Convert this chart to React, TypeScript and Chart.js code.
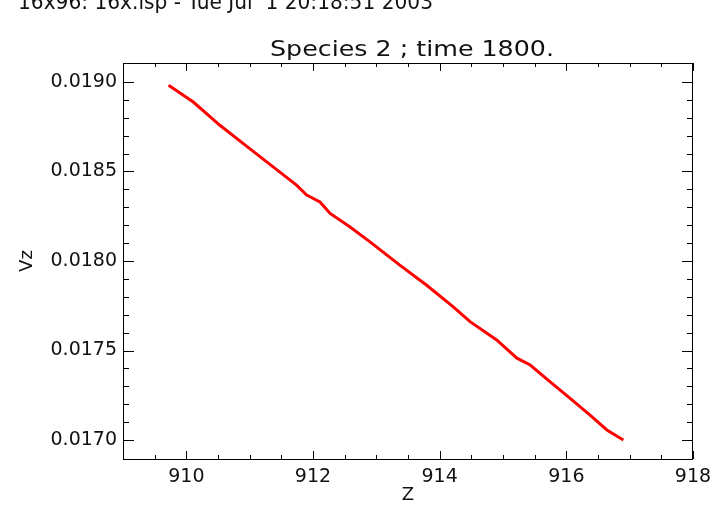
import React, { useEffect, useRef } from "react";
import { Chart, registerables } from "chart.js";

Chart.register(...registerables);

const headerText = "16x96: 16x.lsp - Tue Jul  1 20:18:51 2003";
const titleText = "Species 2 ; time 1800.";
const xTitle = "Z";
const yTitle = "Vz";

const zValues = [
  909.72, 910.11, 910.53, 910.9, 911.37, 911.74, 911.9, 912.11, 912.27, 912.58,
  912.9, 913.37, 913.79, 914.21, 914.48, 914.9, 915.22, 915.43, 915.74, 916.06,
  916.37, 916.64, 916.9,
];
const vzValues = [
  0.018982, 0.018888, 0.018758, 0.018656, 0.018526, 0.018424, 0.018368, 0.01833,
  0.018266, 0.018191, 0.018107, 0.017977, 0.017866, 0.017745, 0.017661, 0.017559,
  0.017457, 0.017419, 0.017326, 0.017233, 0.01714, 0.017056, 0.017,
];

const xMin = 909;
const xMax = 918;
const yMin = 0.016894;
const yMax = 0.019106;

const xMajorTicks = [910, 912, 914, 916, 918];
const xTickLabels = ["910", "912", "914", "916", "918"];
const xMinorTicks = [
  909.5, 910.5, 911, 911.5, 912.5, 913, 913.5, 914.5, 915, 915.5, 916.5, 917, 917.5,
];
const yMajorTicks = [0.017, 0.0175, 0.018, 0.0185, 0.019];
const yTickLabels = ["0.0170", "0.0175", "0.0180", "0.0185", "0.0190"];
const yMinorTicks = [
  0.0171, 0.0172, 0.0173, 0.0174, 0.0176, 0.0177, 0.0178, 0.0179, 0.0181, 0.0182,
  0.0183, 0.0184, 0.0186, 0.0187, 0.0188, 0.0189,
];

const FONT = "DejaVu Sans";
const TEXT_COLOR = "#111";

function drawStretched(
  ctx: CanvasRenderingContext2D,
  text: string,
  x: number,
  y: number,
  width: number,
  align: "left" | "center"
) {
  const w = ctx.measureText(text).width;
  const sx = width / w;
  ctx.save();
  ctx.translate(x, y);
  ctx.scale(sx, 1);
  ctx.textAlign = "left";
  ctx.fillText(text, align === "center" ? -w / 2 : 0, 0);
  ctx.restore();
}

const framePlugin = {
  id: "idlFrame",
  afterDraw(chart: any) {
    const { ctx, chartArea } = chart;
    const xs = chart.scales.x;
    const ys = chart.scales.y;
    const { left, right, top, bottom } = chartArea;
    ctx.save();
    ctx.strokeStyle = "#000";
    ctx.lineWidth = 1;
    ctx.strokeRect(left + 0.5, top + 0.5, right - left - 1, bottom - top);
    const seg = (x1: number, y1: number, x2: number, y2: number) => {
      ctx.beginPath();
      ctx.moveTo(x1, y1);
      ctx.lineTo(x2, y2);
      ctx.stroke();
    };
    const xMajLen = 8;
    const xMinLen = 4;
    const yMajLen = 11;
    const yMinLen = 6;
    xMajorTicks.forEach((v) => {
      const px = Math.round(xs.getPixelForValue(v)) + 0.5;
      seg(px, bottom, px, bottom - xMajLen);
      seg(px, top, px, top + xMajLen);
    });
    xMinorTicks.forEach((v) => {
      const px = Math.round(xs.getPixelForValue(v)) + 0.5;
      seg(px, bottom, px, bottom - xMinLen);
      seg(px, top, px, top + xMinLen);
    });
    yMajorTicks.forEach((v) => {
      const py = Math.round(ys.getPixelForValue(v)) + 0.5;
      seg(left, py, left + yMajLen, py);
      seg(right, py, right - yMajLen, py);
    });
    yMinorTicks.forEach((v) => {
      const py = Math.round(ys.getPixelForValue(v)) + 0.5;
      seg(left, py, left + yMinLen, py);
      seg(right, py, right - yMinLen, py);
    });

    ctx.fillStyle = TEXT_COLOR;
    ctx.textBaseline = "alphabetic";
    ctx.font = `21px "${FONT}"`;
    drawStretched(ctx, headerText, 18, 9, 415, "left");

    ctx.font = `22px "${FONT}"`;
    drawStretched(ctx, titleText, 412, 56, 284, "center");

    ctx.font = `18px "${FONT}"`;
    ctx.textBaseline = "middle";
    ctx.textAlign = "center";
    ctx.fillText(xTitle, (left + right) / 2, 495);

    ctx.save();
    ctx.translate(27, (top + bottom) / 2);
    ctx.rotate(-Math.PI / 2);
    ctx.fillText(yTitle, 0, 0);
    ctx.restore();

    ctx.restore();
  },
};

export default function App() {
  const canvasRef = useRef<HTMLCanvasElement | null>(null);

  useEffect(() => {
    if (!canvasRef.current) return;
    const points = zValues.map((z, i) => ({ x: z, y: vzValues[i] }));
    const chart = new Chart(canvasRef.current, {
      type: "line",
      data: {
        datasets: [
          {
            data: points,
            borderColor: "#ff0000",
            borderWidth: 3,
            pointRadius: 0,
            tension: 0,
            fill: false,
          },
        ],
      },
      options: {
        animation: false,
        responsive: false,
        devicePixelRatio: 1,
        layout: { padding: { top: 63, right: 27, bottom: 0, left: 0 } },
        plugins: {
          legend: { display: false },
          tooltip: { enabled: false },
          title: { display: false },
        },
        scales: {
          x: {
            type: "linear",
            min: xMin,
            max: xMax,
            grid: { display: false, drawTicks: false },
            border: { display: false },
            afterFit: (scale: any) => {
              scale.height = 46;
            },
            afterBuildTicks: (scale: any) => {
              scale.ticks = xMajorTicks.map((v) => ({ value: v }));
            },
            ticks: {
              padding: 7,
              color: TEXT_COLOR,
              font: { family: FONT, size: 19 },
              maxRotation: 0,
              autoSkip: false,
              callback: (_v: any, i: number) => xTickLabels[i],
            },
          },
          y: {
            type: "linear",
            min: yMin,
            max: yMax,
            grid: { display: false, drawTicks: false },
            border: { display: false },
            afterFit: (scale: any) => {
              scale.width = 123;
            },
            afterBuildTicks: (scale: any) => {
              scale.ticks = yMajorTicks.map((v) => ({ value: v }));
            },
            ticks: {
              padding: 6,
              color: TEXT_COLOR,
              font: { family: FONT, size: 19 },
              autoSkip: false,
              callback: (_v: any, i: number) => yTickLabels[i],
            },
          },
        },
      },
      plugins: [framePlugin],
    });
    return () => chart.destroy();
  }, []);

  return (
    <div style={{ position: "absolute", left: 0, top: 0, width: 720, height: 505, background: "#fff" }}>
      <canvas ref={canvasRef} width={720} height={505} />
    </div>
  );
}
